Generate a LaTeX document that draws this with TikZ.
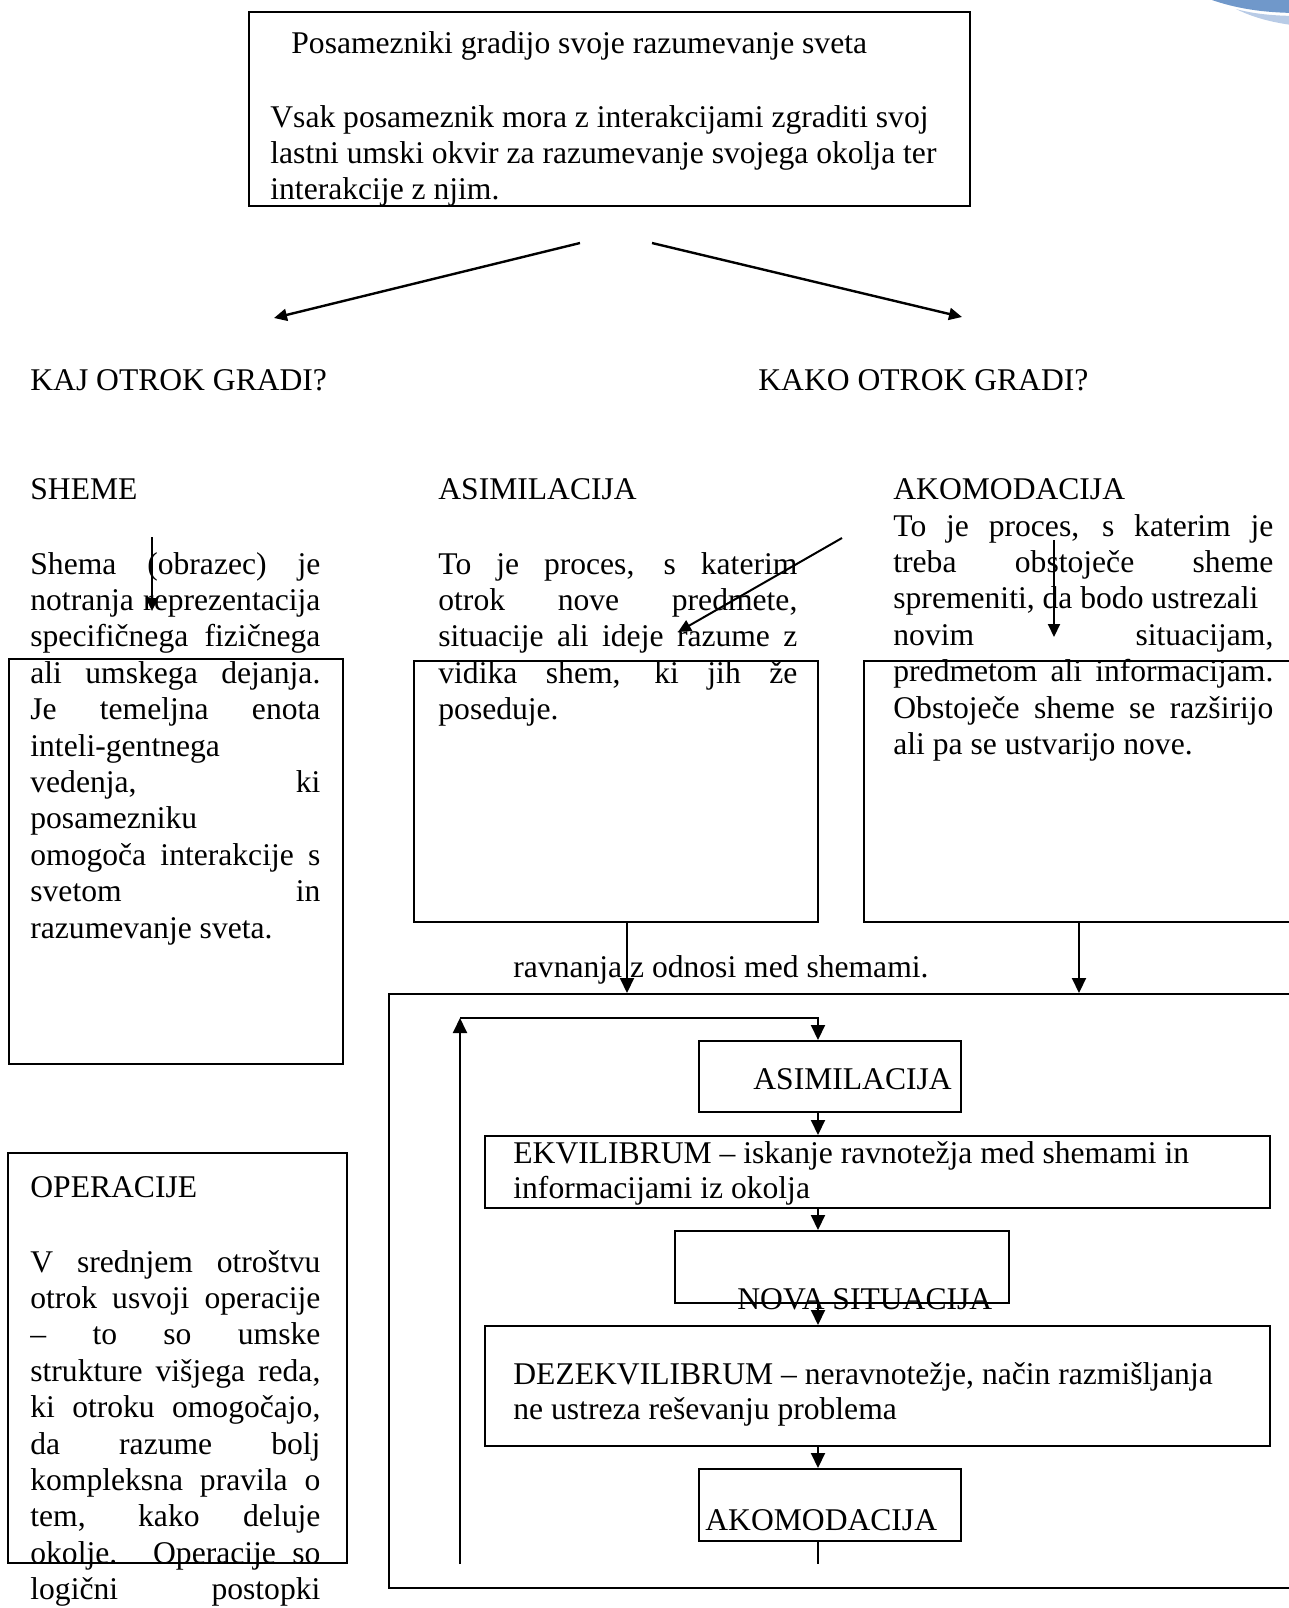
\documentclass[tikz,border=0pt]{standalone}
\usepackage{fontspec}
\setmainfont{Liberation Serif}
\usetikzlibrary{arrows.meta}

\definecolor{swoosh}{HTML}{7098CA}
\definecolor{swooshlight}{HTML}{B8CBE6}

% one justified line of a paragraph
\newcommand\jl[2]{\makebox[#1][s]{#2}}

\tikzset{
	txt/.style={anchor=base west, inner sep=0pt, font=\fontsize{15.8}{18.2}\selectfont},
	box/.style={draw, line width=1pt, anchor=north west, inner sep=0pt},
	arr/.style={line width=1pt, -{Triangle[length=7.5pt,width=7pt]}},
	arrs/.style={line width=1pt, -{Triangle[length=6.5pt,width=6pt]}},
}

\begin{document}
\begin{tikzpicture}[x=0.5pt,y=-0.5pt]
		% Size of the sheet, in pixels
		\def\pw{1289}
		\def\ph{1608}
		
		\useasboundingbox (0,0) rectangle (\pw,\ph);
		\clip (0,0) rectangle (\pw,\ph);
		
		% corner decoration
		\fill[swoosh] (1212,-5) -- (1212,0) .. controls (1235,8) and (1262,13) .. (1300,13) -- (1300,-5) -- cycle;
		\fill[swooshlight] (1236,9) .. controls (1252,17) and (1272,23) .. (1300,26) -- (1300,16) .. controls (1270,16) and (1250,13) .. cycle;
		
		% Top box
		\node[box, minimum width=360.5pt, minimum height=97pt] (top) at (248,11) {};
		\node[txt] (top1) at (291,53) {Posamezniki gradijo svoje razumevanje sveta};
		\node[txt] (top2) at (270,127) {Vsak posameznik mora z interakcijami zgraditi svoj};
		\node[txt] (top3) at (270,163) {lastni umski okvir za razumevanje svojega okolja ter};
		\node[txt] (top4) at (270,199) {interakcije z njim.};
		
		\coordinate (splitL) at (580,243);
		\coordinate (splitR) at (652,243);
		\coordinate (kajtip) at (274,318);
		\coordinate (kakotip) at (962,317);
		\draw[arrs, line width=1.2pt] (splitL) -- (kajtip);
		\draw[arrs, line width=1.2pt] (splitR) -- (kakotip);
		
		\node[txt] (kaj) at (30,390) {KAJ OTROK GRADI?};
		\node[txt] (kako) at (758,390) {KAKO OTROK GRADI?};
		
		% Three columns
		\node[txt] (sheme) at (30,499) {SHEME};
		\node[txt] (asim) at (438,499) {ASIMILACIJA};
		\node[txt] (akom) at (893,499) {AKOMODACIJA};
		
		\node[box, minimum width=167pt, minimum height=202.5pt] (shemebox) at (8,658) {};
		\node[box, minimum width=202pt, minimum height=130.5pt] (asimbox) at (413,660) {};
		\node[box, minimum width=225pt, minimum height=130.5pt] (akombox) at (863,660) {};
		
		\foreach \t [count=\i] in {{Shema (obrazec) je}, {notranja reprezentacija},
			{specifičnega fizičnega}, {ali umskega dejanja.}, {Je temeljna enota},
			{inteli-gentnega\hfill}, {vedenja, ki}, {posamezniku\hfill},
			{omogoča interakcije s}, {svetom in}, {razumevanje sveta.\hfill}}
		\node[txt] (sh\i) at (30,{574+36.4*(\i-1)}) {\jl{145pt}{\t}};
		
		\foreach \t [count=\i] in {{To je proces, s katerim}, {otrok nove predmete,},
			{situacije ali ideje razume z}, {vidika shem, ki jih že}, {poseduje.\hfill}}
		\node[txt] (as\i) at (438,{574+36.4*(\i-1)}) {\jl{179.5pt}{\t}};
		
		\foreach \t [count=\i] in {{To je proces, s katerim je}, {treba obstoječe sheme},
			{spremeniti, da bodo ustrezali\hfill}, {novim situacijam,},
			{predmetom ali informacijam.}, {Obstoječe sheme se razširijo},
			{ali pa se ustvarijo nove.\hfill}}
		\node[txt] (ak\i) at (893,{536+36.4*(\i-1)}) {\jl{190pt}{\t}};
		
		\coordinate (shA) at (152,537);
		\coordinate (shB) at (152,611);
		\coordinate (asA) at (842,538);
		\coordinate (asB) at (678,632);
		\coordinate (akA) at (1054,540);
		\coordinate (akB) at (1054,637);
		\draw[arrs] (shA) -- (shB);
		\draw[arrs] (asA) -- (asB);
		\draw[arrs] (akA) -- (akB);
		
		% Operacije
		\node[box, minimum width=169.5pt, minimum height=205pt] (operbox) at (7,1152) {};
		\node[txt] (oper) at (30,1197) {OPERACIJE};
		\foreach \t [count=\i] in {{V srednjem otroštvu}, {otrok usvoji operacije},
			{– to so umske}, {strukture višjega reda,}, {ki otroku omogočajo,},
			{da razume bolj}, {kompleksna pravila o}, {tem, kako deluje},
			{okolje. Operacije so}, {logični postopki}}
		\node[txt] (op\i) at (30,{1272+36.4*(\i-1)}) {\jl{145pt}{\t}};
		
		% Cycle
		\node[box, minimum width=460pt, minimum height=297pt] (bigbox) at (388,993) {};
		\coordinate (c1) at (627,0);
		\coordinate (c2) at (1079,0);
		\draw[arr] (asimbox.south -| c1) -- (bigbox.north -| c1);
		\draw[arr] (akombox.south -| c2) -- (bigbox.north -| c2);
		\node[txt] (ravn) at (513,977) {ravnanja z odnosi med shemami.};
		
		\node[box, minimum width=131pt, minimum height=35.5pt] (asim2) at (698,1040) {};
		\node[box, minimum width=392.5pt, minimum height=36pt] (ekv) at (484,1135) {};
		\node[box, minimum width=167pt, minimum height=36pt] (nova) at (674,1230) {};
		\node[box, minimum width=392.5pt, minimum height=60pt] (dez) at (484,1325) {};
		\node[box, minimum width=131pt, minimum height=36pt] (akom2) at (698,1468) {};
		
		\node[txt] (asim2t) at (753,1089) {ASIMILACIJA};
		\node[txt] (ekv1) at (513,1163) {EKVILIBRUM – iskanje ravnotežja med shemami in};
		\node[txt] (ekv2) at (513,1198) {informacijami iz okolja};
		\node[txt] (novat) at (737,1309) {NOVA SITUACIJA};
		\node[txt] (dez1) at (513,1384) {DEZEKVILIBRUM – neravnotežje, način razmišljanja};
		\node[txt] (dez2) at (513,1419) {ne ustreza reševanju problema};
		\node[txt] (akom2t) at (705,1530) {AKOMODACIJA};
		
		\coordinate (fx) at (818,0);
		\draw[arr] (asim2.south -| fx) -- (ekv.north -| fx);
		\draw[arr] (ekv.south -| fx) -- (nova.north -| fx);
		\draw[arr] (nova.south -| fx) -- (dez.north -| fx);
		\draw[arr] (dez.south -| fx) -- (akom2.north -| fx);
		\coordinate (loopend) at (818,1564);
		\coordinate (loopbot) at (460,1564);
		\coordinate (looptop) at (460,1018);
		\draw[line width=1pt] (akom2.south -| fx) -- (loopend);
		\draw[arr] (loopbot) -- (looptop);
		\draw[arr] (looptop) -| (asim2.north -| fx);
	\end{tikzpicture}
\end{document}
